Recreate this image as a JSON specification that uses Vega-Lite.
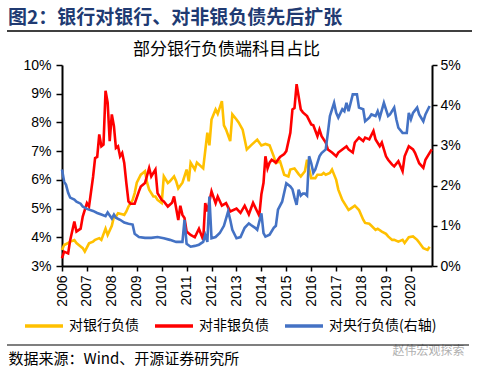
{
  "$schema": "https://vega.github.io/schema/vega-lite/v6.json",
  "width": 370,
  "height": 201,
  "autosize": {"type": "none"},
  "padding": {"left": 62, "top": 65, "right": 48, "bottom": 106},
  "background": "white",
  "title": {
    "text": "图2：银行对银行、对非银负债先后扩张",
    "anchor": "start",
    "frame": "group",
    "dx": -54,
    "font": "Noto Sans CJK SC",
    "fontSize": 19,
    "fontWeight": "bold",
    "color": "#203A72",
    "offset": 2
  },
  "datasets": {
    "bank": [
      {"date":"2006-01","value":3.56},{"date":"2006-02","value":3.73},{"date":"2006-04","value":3.8},{"date":"2006-05","value":3.85},{"date":"2006-07","value":3.9},{"date":"2006-08","value":3.8},{"date":"2006-10","value":3.68},{"date":"2006-11","value":3.62},{"date":"2006-12","value":3.5},{"date":"2007-02","value":3.79},{"date":"2007-04","value":3.85},{"date":"2007-05","value":3.91},{"date":"2007-07","value":3.97},{"date":"2007-08","value":3.91},{"date":"2007-10","value":4.3},{"date":"2007-11","value":4.08},{"date":"2008-01","value":4.4},{"date":"2008-02","value":4.72},{"date":"2008-03","value":4.72},{"date":"2008-04","value":4.84},{"date":"2008-06","value":4.8},{"date":"2008-07","value":4.78},{"date":"2008-08","value":4.9},{"date":"2008-09","value":5.07},{"date":"2008-11","value":5.3},{"date":"2008-12","value":5.54},{"date":"2009-01","value":5.9},{"date":"2009-03","value":6.18},{"date":"2009-04","value":6.24},{"date":"2009-05","value":6.3},{"date":"2009-06","value":5.9},{"date":"2009-07","value":5.66},{"date":"2009-09","value":5.42},{"date":"2009-10","value":5.42},{"date":"2009-11","value":5.3},{"date":"2010-01","value":5.19},{"date":"2010-02","value":6.12},{"date":"2010-04","value":5.89},{"date":"2010-05","value":5.95},{"date":"2010-07","value":6.12},{"date":"2010-08","value":5.95},{"date":"2010-09","value":5.7},{"date":"2010-11","value":5.9},{"date":"2011-01","value":6.36},{"date":"2011-02","value":5.95},{"date":"2011-03","value":6.6},{"date":"2011-05","value":6.36},{"date":"2011-06","value":6.6},{"date":"2011-09","value":6.4},{"date":"2011-11","value":7.64},{"date":"2011-12","value":7.2},{"date":"2012-01","value":8.1},{"date":"2012-03","value":8.45},{"date":"2012-04","value":8.3},{"date":"2012-06","value":8.74},{"date":"2012-07","value":7.9},{"date":"2012-08","value":7.75},{"date":"2012-10","value":7.35},{"date":"2012-11","value":8.28},{"date":"2013-01","value":8.1},{"date":"2013-02","value":8.0},{"date":"2013-04","value":7.75},{"date":"2013-06","value":7.06},{"date":"2013-08","value":7.2},{"date":"2013-11","value":7.4},{"date":"2014-01","value":7.2},{"date":"2014-03","value":7.25},{"date":"2014-05","value":7.2},{"date":"2014-07","value":6.82},{"date":"2014-08","value":6.59},{"date":"2014-10","value":6.65},{"date":"2014-12","value":6.18},{"date":"2015-02","value":6.12},{"date":"2015-03","value":6.36},{"date":"2015-05","value":6.4},{"date":"2015-07","value":6.2},{"date":"2015-08","value":6.12},{"date":"2015-10","value":6.3},{"date":"2015-11","value":6.7},{"date":"2016-01","value":6.06},{"date":"2016-03","value":6.06},{"date":"2016-04","value":6.18},{"date":"2016-06","value":6.18},{"date":"2016-07","value":6.24},{"date":"2016-08","value":6.18},{"date":"2016-10","value":6.24},{"date":"2016-11","value":6.36},{"date":"2017-01","value":6.0},{"date":"2017-02","value":5.66},{"date":"2017-04","value":5.3},{"date":"2017-06","value":5.07},{"date":"2017-07","value":4.95},{"date":"2017-08","value":5.0},{"date":"2017-10","value":5.1},{"date":"2017-12","value":4.95},{"date":"2018-02","value":4.61},{"date":"2018-03","value":4.5},{"date":"2018-05","value":4.47},{"date":"2018-06","value":4.4},{"date":"2018-08","value":4.26},{"date":"2018-09","value":4.3},{"date":"2018-11","value":4.2},{"date":"2019-01","value":4.12},{"date":"2019-02","value":4.03},{"date":"2019-04","value":3.91},{"date":"2019-05","value":3.91},{"date":"2019-07","value":3.85},{"date":"2019-09","value":3.91},{"date":"2019-10","value":3.8},{"date":"2019-12","value":4.0},{"date":"2020-02","value":4.03},{"date":"2020-04","value":3.91},{"date":"2020-05","value":3.82},{"date":"2020-07","value":3.62},{"date":"2020-09","value":3.56},{"date":"2020-10","value":3.67}
    ],
    "nonbank": [
      {"date":"2006-01","value":3.27},{"date":"2006-02","value":3.5},{"date":"2006-04","value":3.44},{"date":"2006-05","value":3.9},{"date":"2006-07","value":4.55},{"date":"2006-08","value":4.2},{"date":"2006-10","value":4.3},{"date":"2006-11","value":4.72},{"date":"2007-01","value":5.19},{"date":"2007-02","value":5.07},{"date":"2007-04","value":6.1},{"date":"2007-05","value":6.76},{"date":"2007-06","value":6.8},{"date":"2007-07","value":7.58},{"date":"2007-08","value":7.17},{"date":"2007-09","value":7.23},{"date":"2007-10","value":9.1},{"date":"2007-11","value":8.69},{"date":"2007-12","value":7.35},{"date":"2008-01","value":8.28},{"date":"2008-02","value":7.87},{"date":"2008-03","value":7.11},{"date":"2008-04","value":7.17},{"date":"2008-05","value":6.82},{"date":"2008-06","value":6.94},{"date":"2008-07","value":6.59},{"date":"2008-08","value":5.89},{"date":"2008-09","value":5.25},{"date":"2008-10","value":5.17},{"date":"2008-12","value":5.17},{"date":"2009-02","value":5.6},{"date":"2009-03","value":5.77},{"date":"2009-05","value":5.89},{"date":"2009-07","value":6.41},{"date":"2009-08","value":6.12},{"date":"2009-10","value":6.36},{"date":"2009-11","value":5.54},{"date":"2010-01","value":5.3},{"date":"2010-02","value":5.25},{"date":"2010-04","value":5.07},{"date":"2010-06","value":5.2},{"date":"2010-07","value":5.42},{"date":"2010-09","value":4.6},{"date":"2010-10","value":5.1},{"date":"2010-11","value":4.78},{"date":"2010-12","value":4.67},{"date":"2011-01","value":4.2},{"date":"2011-03","value":4.08},{"date":"2011-05","value":4.0},{"date":"2011-07","value":4.3},{"date":"2011-09","value":3.91},{"date":"2011-10","value":5.19},{"date":"2011-11","value":4.9},{"date":"2012-01","value":5.6},{"date":"2012-03","value":5.19},{"date":"2012-04","value":5.42},{"date":"2012-06","value":5.1},{"date":"2012-08","value":5.19},{"date":"2012-10","value":4.9},{"date":"2013-01","value":5.0},{"date":"2013-03","value":4.85},{"date":"2013-05","value":5.1},{"date":"2013-07","value":4.8},{"date":"2013-09","value":5.2},{"date":"2013-11","value":4.9},{"date":"2013-12","value":4.75},{"date":"2014-01","value":5.5},{"date":"2014-02","value":5.9},{"date":"2014-03","value":6.82},{"date":"2014-04","value":6.4},{"date":"2014-05","value":6.6},{"date":"2014-06","value":6.7},{"date":"2014-08","value":6.6},{"date":"2014-10","value":6.8},{"date":"2014-12","value":6.9},{"date":"2015-01","value":7.0},{"date":"2015-03","value":7.64},{"date":"2015-04","value":8.45},{"date":"2015-05","value":8.5},{"date":"2015-06","value":9.33},{"date":"2015-08","value":8.45},{"date":"2015-09","value":8.35},{"date":"2015-11","value":8.22},{"date":"2016-01","value":7.93},{"date":"2016-02","value":7.9},{"date":"2016-04","value":7.52},{"date":"2016-05","value":7.75},{"date":"2016-06","value":7.52},{"date":"2016-08","value":7.3},{"date":"2016-09","value":7.06},{"date":"2016-11","value":6.95},{"date":"2017-01","value":6.82},{"date":"2017-02","value":6.95},{"date":"2017-04","value":7.06},{"date":"2017-06","value":7.17},{"date":"2017-07","value":7.06},{"date":"2017-09","value":6.95},{"date":"2017-10","value":7.3},{"date":"2017-12","value":7.47},{"date":"2018-02","value":7.35},{"date":"2018-03","value":7.47},{"date":"2018-05","value":7.41},{"date":"2018-07","value":7.7},{"date":"2018-08","value":7.41},{"date":"2018-10","value":7.17},{"date":"2018-11","value":7.3},{"date":"2019-01","value":6.82},{"date":"2019-02","value":6.7},{"date":"2019-04","value":6.53},{"date":"2019-05","value":6.47},{"date":"2019-07","value":6.65},{"date":"2019-09","value":6.3},{"date":"2019-10","value":6.82},{"date":"2019-12","value":7.17},{"date":"2020-02","value":7.06},{"date":"2020-03","value":6.94},{"date":"2020-05","value":6.58},{"date":"2020-07","value":6.42},{"date":"2020-08","value":6.7},{"date":"2020-11","value":7.06}
    ],
    "pboc": [
      {"date":"2006-01","value":2.4},{"date":"2006-02","value":2.1},{"date":"2006-03","value":2.02},{"date":"2006-04","value":1.82},{"date":"2006-05","value":1.7},{"date":"2006-07","value":1.65},{"date":"2006-08","value":1.6},{"date":"2006-10","value":1.55},{"date":"2006-11","value":1.48},{"date":"2007-01","value":1.42},{"date":"2007-04","value":1.37},{"date":"2007-06","value":1.32},{"date":"2007-08","value":1.28},{"date":"2007-10","value":1.24},{"date":"2007-11","value":1.33},{"date":"2008-01","value":1.18},{"date":"2008-02","value":1.28},{"date":"2008-03","value":1.2},{"date":"2008-05","value":1.15},{"date":"2008-07","value":1.08},{"date":"2008-09","value":1.05},{"date":"2008-11","value":1.03},{"date":"2008-12","value":0.8},{"date":"2009-02","value":0.72},{"date":"2009-05","value":0.7},{"date":"2009-08","value":0.7},{"date":"2009-11","value":0.72},{"date":"2010-02","value":0.69},{"date":"2010-05","value":0.65},{"date":"2010-08","value":0.6},{"date":"2010-11","value":0.6},{"date":"2010-12","value":1.15},{"date":"2011-01","value":0.55},{"date":"2011-03","value":0.48},{"date":"2011-05","value":0.5},{"date":"2011-07","value":0.53},{"date":"2011-09","value":0.6},{"date":"2011-10","value":0.77},{"date":"2011-11","value":0.6},{"date":"2011-12","value":1.73},{"date":"2012-01","value":0.69},{"date":"2012-03","value":0.72},{"date":"2012-05","value":0.82},{"date":"2012-07","value":1.0},{"date":"2012-09","value":1.36},{"date":"2012-10","value":1.15},{"date":"2012-11","value":0.9},{"date":"2013-01","value":0.69},{"date":"2013-03","value":0.72},{"date":"2013-05","value":0.95},{"date":"2013-07","value":1.06},{"date":"2013-08","value":1.02},{"date":"2013-10","value":0.95},{"date":"2013-11","value":0.9},{"date":"2014-01","value":1.31},{"date":"2014-02","value":0.82},{"date":"2014-03","value":0.73},{"date":"2014-05","value":0.78},{"date":"2014-07","value":0.95},{"date":"2014-08","value":1.0},{"date":"2014-09","value":1.4},{"date":"2014-11","value":1.6},{"date":"2015-01","value":2.06},{"date":"2015-03","value":1.98},{"date":"2015-04","value":1.91},{"date":"2015-05","value":1.7},{"date":"2015-06","value":1.52},{"date":"2015-07","value":1.9},{"date":"2015-08","value":1.75},{"date":"2015-09","value":1.8},{"date":"2015-10","value":1.8},{"date":"2015-11","value":1.75},{"date":"2015-12","value":2.73},{"date":"2016-01","value":2.56},{"date":"2016-02","value":2.32},{"date":"2016-03","value":2.4},{"date":"2016-05","value":2.73},{"date":"2016-06","value":2.81},{"date":"2016-08","value":2.9},{"date":"2016-09","value":3.31},{"date":"2016-10","value":3.73},{"date":"2016-12","value":4.06},{"date":"2017-01","value":3.81},{"date":"2017-02","value":3.69},{"date":"2017-04","value":3.9},{"date":"2017-05","value":3.85},{"date":"2017-06","value":4.06},{"date":"2017-07","value":3.85},{"date":"2017-09","value":4.27},{"date":"2017-11","value":4.27},{"date":"2017-12","value":3.94},{"date":"2018-02","value":3.9},{"date":"2018-03","value":3.6},{"date":"2018-05","value":3.69},{"date":"2018-06","value":3.77},{"date":"2018-08","value":3.73},{"date":"2018-09","value":3.85},{"date":"2018-10","value":3.69},{"date":"2018-12","value":4.06},{"date":"2019-02","value":3.73},{"date":"2019-03","value":3.77},{"date":"2019-05","value":3.94},{"date":"2019-06","value":3.65},{"date":"2019-07","value":3.44},{"date":"2019-09","value":3.31},{"date":"2019-11","value":3.31},{"date":"2019-12","value":3.81},{"date":"2020-01","value":3.65},{"date":"2020-02","value":3.81},{"date":"2020-04","value":3.94},{"date":"2020-05","value":3.77},{"date":"2020-07","value":3.6},{"date":"2020-08","value":3.77},{"date":"2020-10","value":3.98}
    ]
  },
  "layer": [
    {
      "encoding": {
        "x": {
          "field": "date", "type": "temporal",
          "scale": {"domain": ["2006-01-01", "2020-11-05"]},
          "axis": {
            "orient": "bottom", "title": null, "format": "%Y",
            "tickCount": {"interval": "year", "step": 1},
            "labelAngle": -90, "labelOverlap": false, "labelFlush": false,
            "tickSize": 5, "labelPadding": 4
          }
        },
        "y": {
          "field": "value", "type": "quantitative",
          "scale": {"domain": [3, 10], "nice": false, "zero": false},
          "axis": {
            "orient": "left", "values": [3,4,5,6,7,8,9,10],
            "labelExpr": "datum.value + '%'",
            "tickSize": 6, "labelPadding": 5,
            "title": "数据来源：Wind、开源证券研究所",
            "titleAngle": 0, "titleX": -54, "titleY": 293,
            "titleAlign": "left", "titleBaseline": "middle",
            "titleFont": "Noto Sans CJK SC", "titleFontSize": 15,
            "titleFontWeight": "normal", "titleColor": "#000000"
          }
        }
      },
      "layer": [
        {
          "data": {"name": "bank"},
          "mark": {"type": "line", "strokeWidth": 2.6},
          "encoding": {
            "color": {"datum": "对银行负债", "type": "nominal",
              "scale": {"domain": ["对银行负债", "对非银负债", "对央行负债(右轴)"], "range": ["#FFC000", "#FF0000", "#4472C4"]}}
          }
        },
        {
          "data": {"name": "nonbank"},
          "mark": {"type": "line", "strokeWidth": 2.6},
          "encoding": {
            "color": {"datum": "对非银负债", "type": "nominal",
              "scale": {"domain": ["对银行负债", "对非银负债", "对央行负债(右轴)"], "range": ["#FFC000", "#FF0000", "#4472C4"]}}
          }
        }
      ]
    },
    {
      "data": {"name": "pboc"},
      "mark": {"type": "line", "strokeWidth": 2.6},
      "encoding": {
        "x": {
          "field": "date", "type": "temporal",
          "axis": {
            "orient": "top", "labels": false, "ticks": false, "domain": false, "grid": false,
            "title": "部分银行负债端科目占比",
            "titleX": 164, "titleY": -16, "titleBaseline": "middle", "titleAlign": "center",
            "titleFont": "Noto Sans CJK SC", "titleFontSize": 17, "titleFontWeight": "normal", "titleColor": "#000000"
          }
        },
        "y": {
          "field": "value", "type": "quantitative",
          "scale": {"domain": [0, 5], "nice": false},
          "axis": {
            "orient": "right", "values": [0,1,2,3,4,5],
            "labelExpr": "datum.value + '%'",
            "tickSize": 5, "labelPadding": 3,
            "title": "赵伟宏观探索",
            "titleAngle": 0, "titleX": -40, "titleY": 285,
            "titleAlign": "left", "titleBaseline": "middle",
            "titleFont": "Noto Sans CJK SC", "titleFontSize": 12,
            "titleFontWeight": "normal", "titleColor": "#B0B0B0"
          }
        },
        "color": {"datum": "对央行负债(右轴)", "type": "nominal",
          "scale": {"domain": ["对银行负债", "对非银负债", "对央行负债(右轴)"], "range": ["#FFC000", "#FF0000", "#4472C4"]}}
      }
    },
    {
      "data": {"values": [{"line": "top"}]},
      "mark": {"type": "rect", "fill": "#000000", "clip": false},
      "encoding": {"x": {"value": -55}, "x2": {"value": 410}, "y": {"value": -34.7}, "y2": {"value": -33.3}}
    },
    {
      "data": {"values": [{"line": "bottom"}]},
      "mark": {"type": "rect", "fill": "#000000", "clip": false},
      "encoding": {"x": {"value": -55}, "x2": {"value": 407}, "y": {"value": 279.4}, "y2": {"value": 280.6}}
    }
  ],
  "resolve": {"scale": {"y": "independent"}, "axis": {"x": "independent"}},
  "config": {
    "view": {"stroke": null},
    "axis": {
      "grid": false,
      "domainColor": "#000000", "domainWidth": 2,
      "tickColor": "#000000", "tickWidth": 1.5,
      "labelColor": "#000000", "labelFont": "Liberation Sans", "labelFontSize": 14
    },
    "legend": {
      "orient": "none", "legendX": -39, "legendY": 240,
      "direction": "horizontal", "title": null,
      "symbolType": "stroke", "symbolSize": 1444, "symbolStrokeWidth": 3.5,
      "labelFont": "Noto Sans CJK SC", "labelFontSize": 14, "labelColor": "#000000",
      "labelOffset": 4, "columnPadding": 9, "labelLimit": 300, "padding": 0
    }
  }
}
